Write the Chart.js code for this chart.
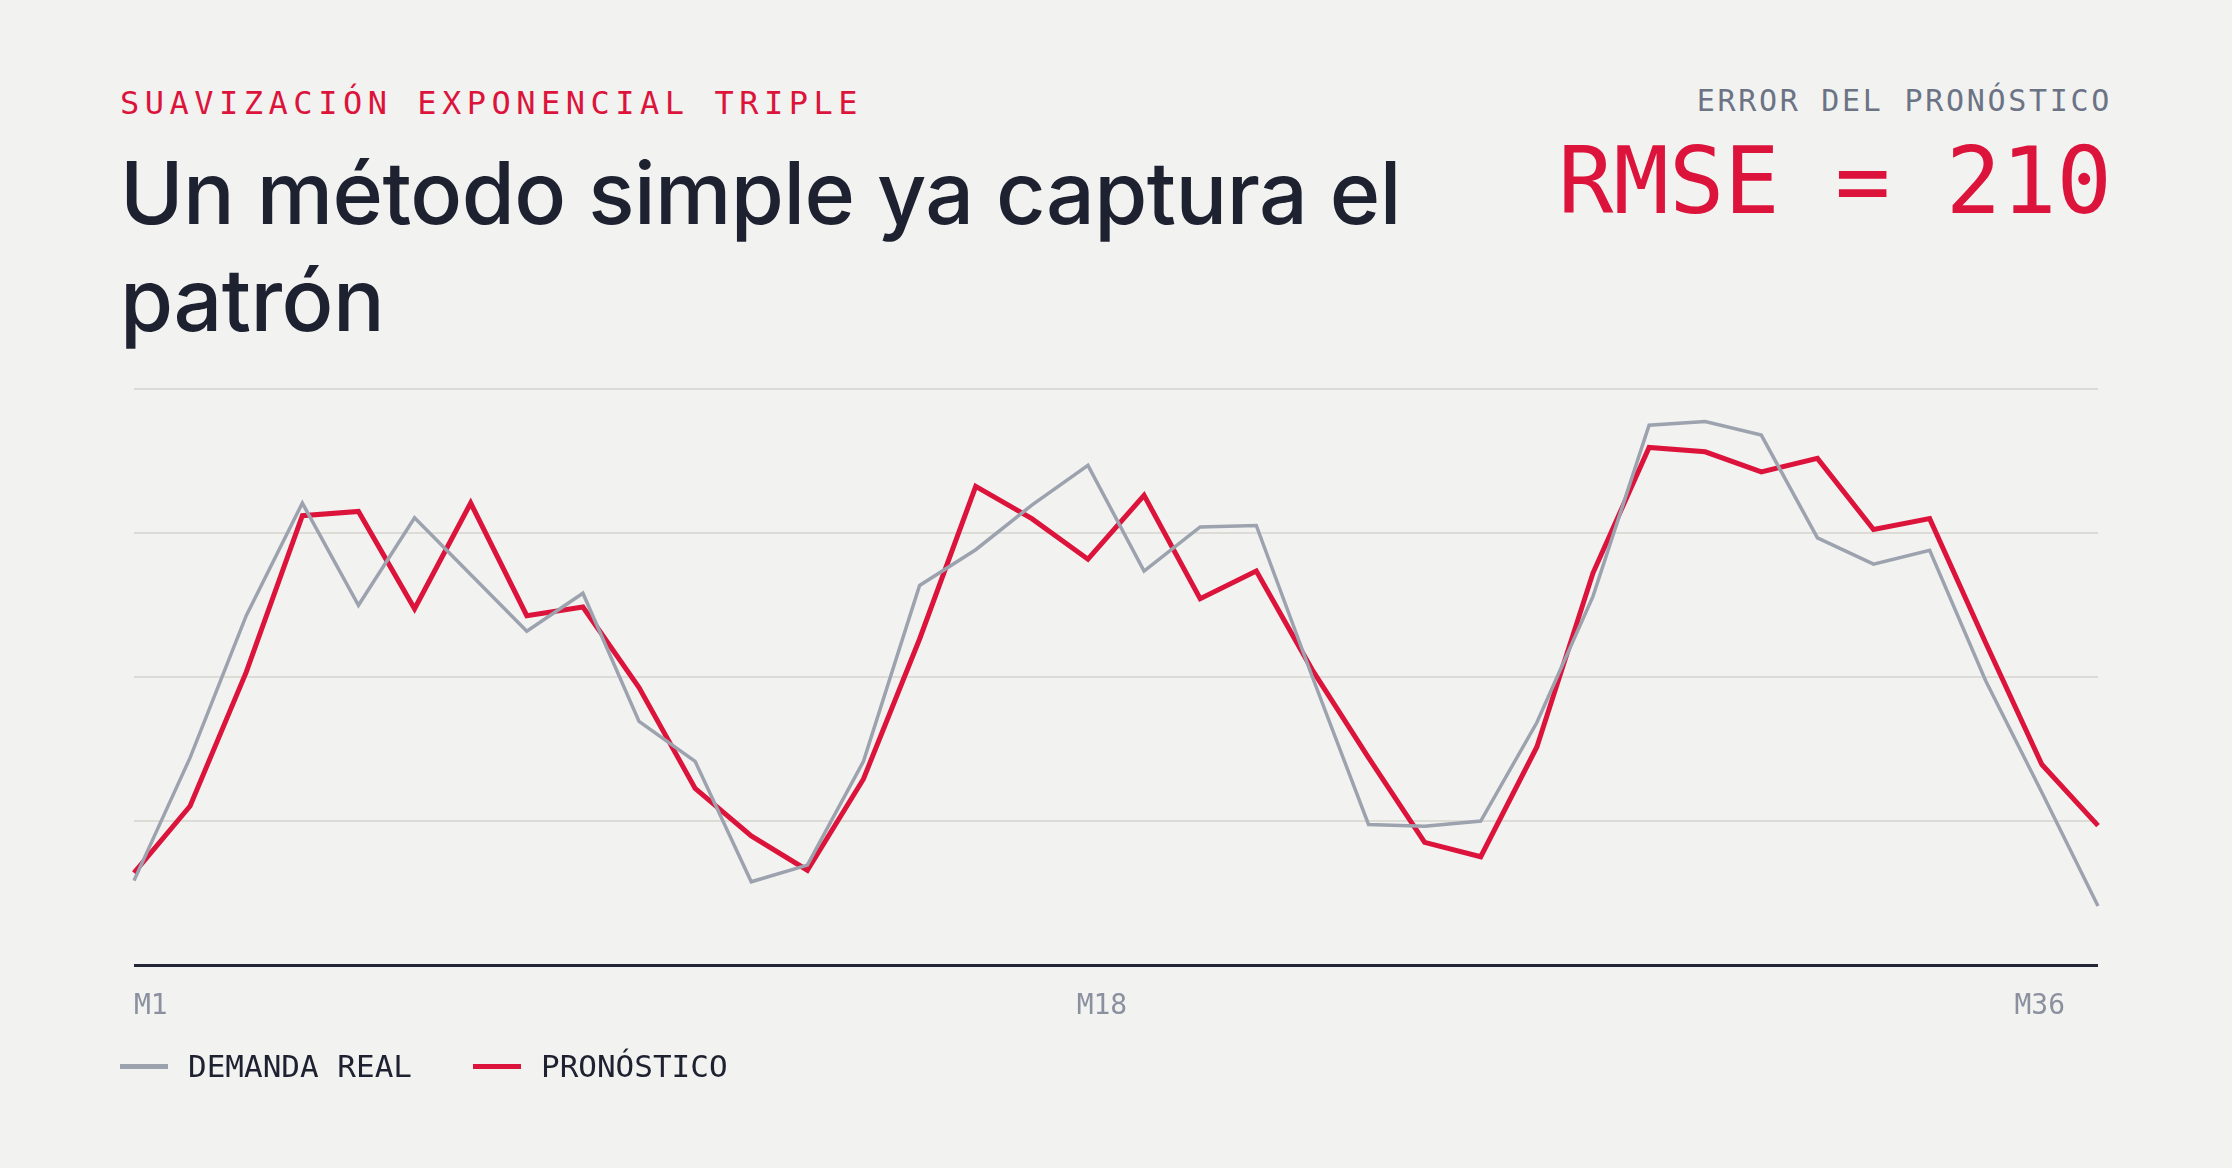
<!DOCTYPE html>
<html>
<head>
<meta charset="utf-8">
<script src="https://cdn.jsdelivr.net/npm/chart.js@4.4.1/dist/chart.umd.min.js"></script>
<style>
  html, body { margin: 0; padding: 0; }
  body { width: 2232px; height: 1168px; background: #f2f2f0; position: relative; overflow: hidden; font-family: Inter, "Noto Sans", sans-serif; }
  .mono { font-family: "DejaVu Sans Mono", "Liberation Mono", monospace; }
  #kicker { position: absolute; left: 120px; top: 87px; font-size: 32px; line-height: 1; letter-spacing: 5.5px; color: #dc143c; white-space: nowrap; }
  #title { position: absolute; left: 120px; top: 140px; width: 1400px; font-size: 86px; line-height: 107px; font-weight: 500; letter-spacing: -0.55px; color: #1d2130; margin: 0; }
  #errlabel { position: absolute; right: 120px; top: 86px; font-size: 30px; line-height: 1; letter-spacing: 2.7px; color: #6b7385; white-space: nowrap; }
  #rmse { position: absolute; right: 120px; top: 136px; font-size: 92px; line-height: 1; color: #dc143c; white-space: nowrap; }
  #chartwrap { position: absolute; left: 100px; top: 370px; width: 2032px; height: 680px; }
  #legend { position: absolute; left: 120px; top: 1051px; display: flex; align-items: center; font-size: 31px; line-height: 1; color: #1d2130; }
  .item { display: flex; align-items: center; margin-right: 61px; }
  .sw { display: inline-block; width: 48px; height: 5px; margin-right: 20px; }
</style>
</head>
<body>
<div id="kicker" class="mono">SUAVIZACIÓN EXPONENCIAL TRIPLE</div>
<h1 id="title">Un método simple ya captura el patrón</h1>
<div id="errlabel" class="mono">ERROR DEL PRONÓSTICO</div>
<div id="rmse" class="mono">RMSE = 210</div>
<div id="chartwrap"><canvas id="c" width="2032" height="680"></canvas></div>
<div id="legend" class="mono">
  <div class="item"><span class="sw" style="background:#9ca3af"></span><span>DEMANDA REAL</span></div>
  <div class="item"><span class="sw" style="background:#dc143c"></span><span>PRONÓSTICO</span></div>
</div>
<script>
const months = ['M1','M2','M3','M4','M5','M6','M7','M8','M9','M10','M11','M12',
  'M13','M14','M15','M16','M17','M18','M19','M20','M21','M22','M23','M24',
  'M25','M26','M27','M28','M29','M30','M31','M32','M33','M34','M35','M36'];
const demandaReal = [293,720,1213,1604,1249,1553,1356,1159,1291,846,707,289,
  347,707,1318,1442,1597,1735,1368,1521,1526,1000,488,482,
  500,842,1280,1874,1887,1840,1483,1392,1440,986,599,205];
const pronostico = [320,552,1017,1560,1575,1237,1604,1213,1243,963,613,448,
  329,646,1132,1662,1550,1409,1631,1272,1368,1024,720,426,
  376,757,1361,1797,1782,1712,1759,1512,1550,1118,696,484];
const tickLabels = ['M1','M18','M36'];
const yMin = 0, yMax = 2000, yStep = 500;

const tickPlugin = {
  id: 'tickText',
  afterDraw(chart) {
    const ctx = chart.ctx, xs = chart.scales.x, area = chart.chartArea;
    ctx.save();
    ctx.font = '28px "DejaVu Sans Mono", monospace';
    ctx.fillStyle = '#8a909e';
    ctx.textBaseline = 'alphabetic';
    const y = area.bottom + 49;
    ctx.textAlign = 'left';
    ctx.fillText(tickLabels[0], xs.getPixelForValue(months.indexOf(tickLabels[0])), y);
    ctx.textAlign = 'center';
    ctx.fillText(tickLabels[1], xs.getPixelForValue(months.indexOf(tickLabels[1])) + 14, y);
    ctx.textAlign = 'right';
    ctx.fillText(tickLabels[2], xs.getPixelForValue(months.indexOf(tickLabels[2])) - 33, y);
    ctx.restore();
  }
};

new Chart(document.getElementById('c'), {
  type: 'line',
  data: {
    labels: months,
    datasets: [
      { label: 'DEMANDA REAL', data: demandaReal, borderColor: '#9ca3af', borderWidth: 3.5, pointRadius: 0, tension: 0, borderJoinStyle: 'miter', fill: false },
      { label: 'PRONÓSTICO', data: pronostico, borderColor: '#dc143c', borderWidth: 5, pointRadius: 0, tension: 0, borderJoinStyle: 'miter', fill: false }
    ]
  },
  options: {
    responsive: false,
    animation: false,
    devicePixelRatio: 1,
    layout: { padding: { left: 34, right: 34, top: 19, bottom: 85 } },
    plugins: { legend: { display: false }, tooltip: { enabled: false } },
    scales: {
      x: { display: false },
      y: {
        min: yMin, max: yMax,
        ticks: { display: false, stepSize: yStep },
        border: { display: false },
        grid: {
          drawTicks: false,
          color: c => c.tick.value === yMin ? '#232636' : '#dcdbd6',
          lineWidth: c => c.tick.value === yMin ? 3 : 2
        },
        afterFit: s => { s.width = 0; }
      }
    }
  },
  plugins: [tickPlugin]
});
</script>
</body>
</html>
